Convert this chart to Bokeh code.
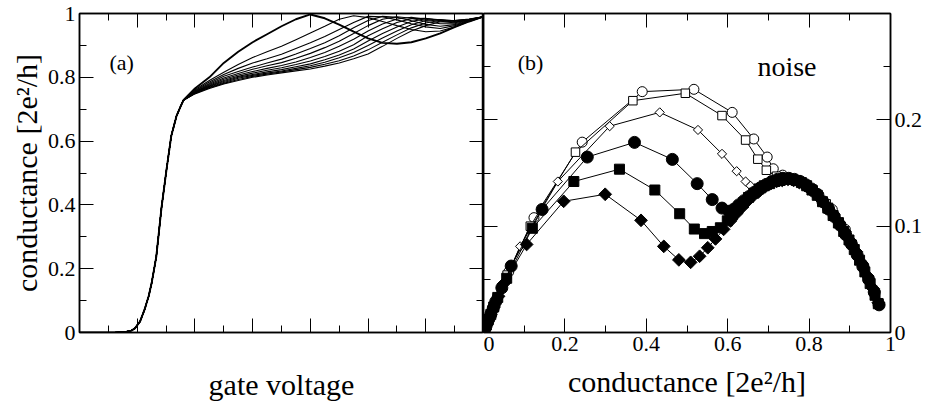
from bokeh.plotting import figure
from bokeh.models import LinearAxis, FixedTicker, Range1d, Label
from bokeh.layouts import row
from bokeh.embed import file_html
from bokeh.resources import INLINE

FONT = "'Liberation Serif', 'Times New Roman', serif"

# ---------------- panel (a): conductance vs gate voltage ----------------
gate_rise = [0.0, 0.6, 0.8, 0.9, 0.96, 1.05, 1.13, 1.2, 1.25, 1.33, 1.42, 1.51, 1.59, 1.68, 1.75]
cond_rise = [0.0, 0.0, 0.002, 0.006, 0.013, 0.035, 0.073, 0.115, 0.155, 0.237, 0.39, 0.514, 0.616, 0.678, 0.708]

gate_fan = [1.8, 2.0, 2.25, 2.5, 2.75, 3.0, 3.25, 3.5, 3.75, 4.0, 4.25, 4.5, 4.75,
            5.0, 5.25, 5.5, 5.75, 6.0, 6.25, 6.5, 6.75, 7.0]
cond_k0 = [.728, .765, .80, .845, .88, .91, .935, .96, .982, .997, .985, .965, .943, .922, .908, .905, .91, .922, .938, .957, .975, .99]
cond_k1 = [.728, .761, .79, .816, .84, .862, .88, .897, .918, .939, .96, .982, .993, .987, .975, .962, .95, .943, .945, .958, .975, .99]
cond_k2 = [.728, .758, .785, .809, .828, .845, .858, .872, .89, .908, .928, .95, .972, .991, .99, .98, .968, .958, .953, .962, .976, .99]
cond_k3 = [.728, .756, .781, .803, .818, .832, .845, .857, .873, .89, .908, .93, .955, .978, .991, .988, .977, .966, .96, .965, .977, .99]
cond_k4 = [.728, .754, .778, .798, .812, .825, .836, .846, .86, .875, .893, .913, .937, .962, .982, .99, .985, .975, .968, .968, .978, .99]
cond_k5 = [.728, .753, .775, .794, .807, .818, .828, .837, .848, .862, .878, .897, .919, .945, .967, .983, .988, .982, .974, .971, .979, .99]
cond_k6 = [.728, .752, .773, .79, .803, .813, .822, .83, .84, .851, .865, .882, .902, .93, .952, .972, .984, .985, .978, .973, .98, .99]
cond_k7 = [.728, .751, .771, .787, .8, .809, .817, .824, .833, .842, .855, .87, .889, .914, .937, .958, .975, .984, .98, .975, .98, .99]
cond_k8 = [.728, .75, .769, .784, .797, .806, .813, .82, .828, .836, .847, .861, .878, .9, .923, .945, .965, .978, .981, .977, .981, .99]
cond_k9 = [.728, .749, .767, .781, .793, .803, .81, .817, .824, .831, .841, .852, .867, .886, .91, .933, .955, .97, .979, .978, .982, .99]
cond_k10 = [.728, .748, .765, .779, .79, .80, .807, .814, .82, .826, .835, .845, .858, .873, .897, .922, .945, .962, .974, .978, .983, .99]

gate_ticks = [0, 1, 2, 3, 4, 5, 6, 7]
gate_minor = [0.5, 1.5, 2.5, 3.5, 4.5, 5.5, 6.5]
cond_ticks = [0, 0.2, 0.4, 0.6, 0.8, 1]
cond_tick_labels = ["0", "0.2", "0.4", "0.6", "0.8", "1"]
cond_minor = [0.1, 0.3, 0.5, 0.7, 0.9]

# ---------------- panel (b): noise vs conductance ----------------
g_open_circle = [0, .004, .01, .02, .035, .062, .124, .2425, .39, .517, .611, .664, .697, .712,
                 .735, .765, .795, .824, .857, .889, .93, .959, .972]
n_open_circle = [0, .004, .01, .019, .033, .057, .108, .179, .2265, .2287, .207, .182, .165, .154,
                 .148, .143, .137, .1295, .1157, .097, .065, .037, .026]

g_open_square = [0, .004, .01, .02, .034, .058, .115, .226, .367, .496, .586, .644, .674, .695,
                 .72, .748, .778, .81, .842, .874, .906, .936, .962, .97]
n_open_square = [0, .004, .01, .019, .032, .054, .100, .1696, .218, .225, .204, .181, .163, .1526,
                 .147, .145, .142, .134, .121, .104, .083, .06, .036, .028]

g_open_diamond = [0, .005, .012, .024, .045, .09, .1826, .31, .433, .527, .586, .622, .644, .656,
                  .675, .7, .725, .75, .78, .81, .84, .87, .9, .93, .955, .968]
n_open_diamond = [0, .005, .012, .022, .042, .081, .142, .194, .207, .1905, .168, .1517, .142, .138,
                  .137, .14, .143, .145, .142, .134, .121, .106, .088, .066, .044, .03]

g_filled_circle = [0, .003, .007, .012, .018, .024, .03, .045, .068, .144, .255, .371, .464, .525, .562,
                   .586, .603, .615, .627, .64, .653, .666, .68, .694, .708, .722, .736, .75, .764,
                   .778, .792, .806, .82, .834, .848, .862, .876, .89, .904, .918, .932, .946, .96, .972]
n_filled_circle = [0, .003, .007, .012, .017, .023, .029, .042, .0625, .1157, .165, .1788, .1628, .140, .125,
                   .117, .114, .116, .12, .124, .128, .132, .136, .139, .142, .144, .145, .145, .144,
                   .142, .139, .135, .13, .123, .116, .109, .101, .092, .083, .073, .062, .05, .038, .026]

g_filled_square = [0, .003, .007, .012, .018, .025, .035, .057, .12, .222, .334, .421, .482, .518, .543,
                   .562, .582, .599, .612, .625, .638, .651, .664, .677, .69, .703, .716, .729, .742,
                   .755, .768, .781, .794, .807, .82, .833, .846, .859, .872, .885, .898, .911, .924,
                   .937, .95, .962, .97]
n_filled_square = [0, .003, .007, .012, .017, .024, .033, .051, .098, .142, .1536, .134, .1117, .0973, .093,
                   .095, .0985, .105, .111, .117, .122, .127, .131, .135, .138, .14, .142, .143, .144,
                   .144, .143, .141, .138, .134, .129, .123, .117, .11, .103, .095, .087, .078, .068,
                   .057, .046, .035, .027]

g_filled_diamond = [0, .003, .007, .012, .018, .026, .037, .05, .106, .197, .299, .387, .443, .48, .509,
                    .531, .551, .57, .59, .607, .622, .636, .65, .664, .678, .692, .706, .72, .734,
                    .748, .762, .776, .79, .804, .818, .832, .846, .86, .874, .888, .902, .916, .93,
                    .944, .958, .97]
n_filled_diamond = [0, .003, .007, .011, .017, .024, .034, .046, .0828, .1234, .130, .1055, .081, .0683, .066,
                    .0717, .0797, .088, .097, .105, .112, .118, .124, .129, .133, .137, .14, .142, .143,
                    .144, .143, .141, .138, .134, .13, .124, .118, .111, .103, .095, .086, .076, .065,
                    .053, .041, .028]

g_ticks = [0, 0.2, 0.4, 0.6, 0.8, 1]
g_tick_labels = ["0", "0.2", "0.4", "0.6", "0.8", "1"]
g_minor = [0.1, 0.3, 0.5, 0.7, 0.9]
noise_ticks = [0, 0.1, 0.2]
noise_tick_labels = ["0", "0.1", "0.2"]
noise_minor = [0.05, 0.15, 0.25]

TICK_PX = "22px"
LABEL_PX = "30px"


def make_axis(ticks, minor, labels=None, title=None, title_standoff=2):
    ax = LinearAxis(ticker=FixedTicker(ticks=ticks, minor_ticks=minor))
    ax.major_tick_in = 14
    ax.major_tick_out = 0
    ax.minor_tick_in = 7
    ax.minor_tick_out = 0
    ax.axis_line_width = 1.5
    ax.axis_line_color = "black"
    ax.major_tick_line_color = "black"
    ax.minor_tick_line_color = "black"
    ax.major_tick_line_width = 1
    ax.minor_tick_line_width = 1
    ax.major_label_text_font = FONT
    ax.major_label_text_color = "black"
    if labels is None:
        ax.major_label_overrides = {t: "" for t in ticks}
        ax.major_label_text_font_size = "0px"
        ax.major_label_standoff = 0
    else:
        ax.major_label_overrides = {t: l for t, l in zip(ticks, labels)}
        ax.major_label_text_font_size = TICK_PX
        ax.major_label_standoff = 4
    if title is not None:
        ax.axis_label = title
        ax.axis_label_text_font = FONT
        ax.axis_label_text_font_size = LABEL_PX
        ax.axis_label_text_font_style = "normal"
        ax.axis_label_text_color = "black"
        ax.axis_label_standoff = title_standoff
    return ax


def style(p):
    p.outline_line_color = "black"
    p.outline_line_width = 1.5
    p.background_fill_color = "white"
    p.border_fill_color = "white"
    p.grid.visible = False


FRAME_H = 319
TOP = 13
BOTTOM = 67

# ----- left figure -----
p1 = figure(frame_width=404, frame_height=FRAME_H, x_range=Range1d(0, 7), y_range=Range1d(0, 1),
            output_backend="svg", toolbar_location=None,
            x_axis_location=None, y_axis_location=None,
            min_border_left=79, min_border_right=0, min_border_top=TOP, min_border_bottom=BOTTOM)
style(p1)
p1.add_layout(make_axis(cond_ticks, cond_minor, cond_tick_labels, "conductance [2e²/h]"), "left")
p1.add_layout(make_axis(cond_ticks, cond_minor), "right")
p1.add_layout(make_axis(gate_ticks, gate_minor, None, "gate voltage", title_standoff=35), "below")
p1.add_layout(make_axis(gate_ticks, gate_minor), "above")

fan = [cond_k10, cond_k9, cond_k8, cond_k7, cond_k6, cond_k5, cond_k4, cond_k3, cond_k2, cond_k1]
for c in fan:
    p1.line(gate_rise + gate_fan, cond_rise + c, line_color="black", line_width=1.1)
p1.line(gate_rise + gate_fan, cond_rise + cond_k0, line_color="black", line_width=1.9)

p1.add_layout(Label(x=0.52, y=0.846, text="(a)", text_font=FONT, text_font_size="22px",
                    text_baseline="middle", text_color="black"))

# ----- right figure -----
p2 = figure(frame_width=407, frame_height=FRAME_H, x_range=Range1d(0, 1), y_range=Range1d(0, 0.3),
            output_backend="svg", toolbar_location=None,
            x_axis_location=None, y_axis_location=None,
            min_border_left=0, min_border_right=31, min_border_top=TOP, min_border_bottom=BOTTOM)
style(p2)
p2.add_layout(make_axis(noise_ticks, noise_minor), "left")
p2.add_layout(make_axis(noise_ticks, noise_minor, noise_tick_labels), "right")
p2.add_layout(make_axis(g_ticks, g_minor, g_tick_labels, "conductance [2e²/h]", title_standoff=11), "below")
p2.add_layout(make_axis(g_ticks, g_minor), "above")

open_series = [
    (g_open_circle, n_open_circle, "circle", 10, 0),
    (g_open_square, n_open_square, "square", 8.5, 0),
    (g_open_diamond, n_open_diamond, "square", 6.5, 0.785398),
]
filled_series = [
    (g_filled_circle, n_filled_circle, "circle", 12, 0),
    (g_filled_square, n_filled_square, "square", 10, 0),
    (g_filled_diamond, n_filled_diamond, "square", 9, 0.785398),
]
for g, n, m, s, a in open_series:
    p2.line(g, n, line_color="black", line_width=1)
    p2.scatter(g, n, marker=m, size=s, angle=a, fill_color="white", line_color="black", line_width=1)
for g, n, m, s, a in filled_series:
    p2.line(g, n, line_color="black", line_width=1)
    p2.scatter(g, n, marker=m, size=s, angle=a, fill_color="black", line_color="black", line_width=1)

p2.add_layout(Label(x=0.084, y=0.254, text="(b)", text_font=FONT, text_font_size="22px",
                    text_baseline="middle", text_color="black"))
p2.add_layout(Label(x=0.673, y=0.25, text="noise", text_font=FONT, text_font_size="28px",
                    text_baseline="middle", text_color="black"))

layout = row(p1, p2, spacing=0)
open("out.html", "w").write(file_html(layout, INLINE))
